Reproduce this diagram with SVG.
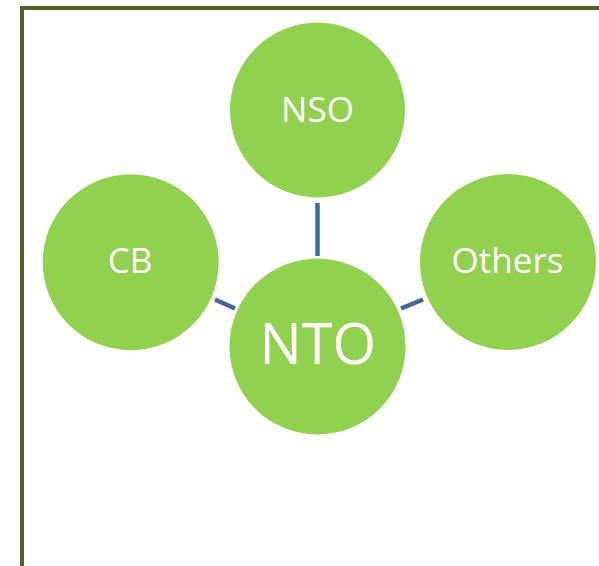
<svg xmlns="http://www.w3.org/2000/svg" width="599" height="566" viewBox="0 0 599 566">
<style>
.node{fill:#92d050;}
.lbl{fill:#ffffff;font-family:"Open Sans","DejaVu Sans",sans-serif;text-anchor:middle;}
.conn{stroke:#3e679d;stroke-width:4.5;fill:none;}
.frame{stroke:#4f6228;stroke-width:4;fill:none;}
</style>
<rect width="599" height="566" fill="#ffffff"/>
<path class="frame" d="M22 566 V8 H599"/>
<g id="connectors">
<line class="conn" x1="317.5" y1="203" x2="317.5" y2="256"/>
<line class="conn" x1="215" y1="299.5" x2="235" y2="308.5"/>
<line class="conn" x1="401" y1="308.5" x2="423" y2="299.5"/>
</g>
<g id="NSO">
<circle class="node" cx="317.5" cy="110" r="87.5"/>
<text class="lbl" x="317.5" y="121.5" font-size="35">NSO</text>
</g>
<g id="CB">
<circle class="node" cx="130.7" cy="262.3" r="88"/>
<text class="lbl" x="130" y="273.3" font-size="35">CB</text>
</g>
<g id="Others">
<circle class="node" cx="508" cy="262" r="88"/>
<text class="lbl" x="507.5" y="273.3" font-size="35">Others</text>
</g>
<g id="NTO">
<circle class="node" cx="317.5" cy="346.5" r="88"/>
<text class="lbl" x="317.8" y="364.3" font-size="56">NTO</text>
</g>
</svg>
